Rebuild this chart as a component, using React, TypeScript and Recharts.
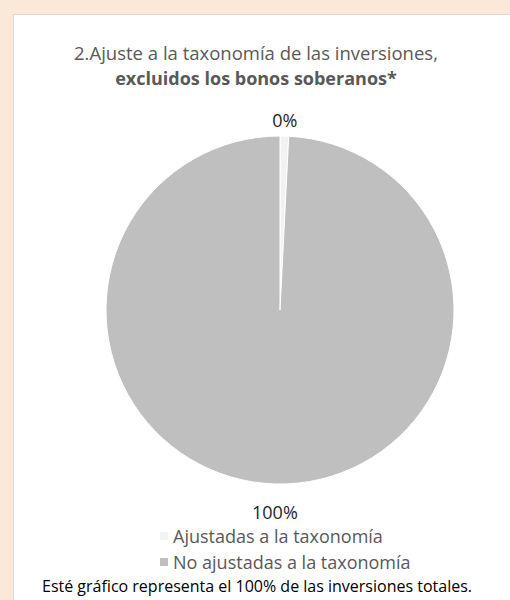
import { PieChart, Pie, Cell, Legend } from "recharts";

const CATEGORIES = ["Ajustadas a la taxonomía", "No ajustadas a la taxonomía"];
const VALUES = [0.8, 99.2];
const LABELS = ["0%", "100%"];
const COLORS = ["#f2f2f2", "#bfbfbf"];

const FONT = "'Open Sans', Lato, sans-serif";
const RADIAN = Math.PI / 180;

const data = CATEGORIES.map((name, i) => ({ name, value: VALUES[i], label: LABELS[i] }));

function renderLabel(props: any) {
  const { cx, cy, midAngle, outerRadius, index } = props;
  const s = Math.sin(midAngle * RADIAN);
  const r = outerRadius + 22 - 6 * s;
  const x = cx + r * Math.cos(-midAngle * RADIAN);
  const y = cy + r * Math.sin(-midAngle * RADIAN);
  return (
    <text
      x={x}
      y={y}
      textAnchor="middle"
      dominantBaseline="central"
      fill="#262626"
      fontSize={18}
      fontFamily={FONT}
    >
      {LABELS[index]}
    </text>
  );
}

function renderLegend() {
  return (
    <div style={{ fontFamily: FONT, fontSize: 18, lineHeight: "18px", color: "#595959" }}>
      {CATEGORIES.map((name, i) => (
        <div key={name} style={{ display: "flex", alignItems: "center", height: 26 }}>
          <span
            style={{
              display: "inline-block",
              width: 8,
              height: 8,
              background: COLORS[i],
              marginRight: 5,
            }}
          />
          <span>{name}</span>
        </div>
      ))}
    </div>
  );
}

export default function App() {
  return (
    <div
      style={{
        position: "absolute",
        left: 0,
        top: 0,
        width: 510,
        height: 600,
        overflow: "hidden",
        background: "#fbe8d8",
      }}
    >
      <div
        style={{
          position: "absolute",
          left: 13,
          top: 14,
          width: 520,
          height: 600,
          background: "#ffffff",
          border: "1px solid #d9d9d9",
        }}
      />
      <div style={{ position: "absolute", left: 0, top: 0 }}>
        <PieChart width={510} height={600}>
          <text
            x={256}
            y={52}
            textAnchor="middle"
            dominantBaseline="central"
            fontSize={18.5}
            fontFamily={FONT}
            fill="#595959"
          >
            2.Ajuste a la taxonomía de las inversiones,
          </text>
          <text
            x={256}
            y={78}
            textAnchor="middle"
            dominantBaseline="central"
            fontSize={18}
            fontWeight="bold"
            fontFamily={FONT}
            fill="#595959"
          >
            excluidos los bonos soberanos*
          </text>
          <Pie
            data={data}
            dataKey="value"
            nameKey="name"
            cx={275}
            cy={305}
            outerRadius={174}
            startAngle={90}
            endAngle={-270}
            stroke="#ffffff"
            strokeWidth={1}
            label={renderLabel}
            labelLine={false}
            isAnimationActive={false}
          >
            {data.map((d, i) => (
              <Cell key={d.name} fill={COLORS[i]} />
            ))}
          </Pie>
          <Legend
            layout="vertical"
            content={renderLegend}
            wrapperStyle={{ left: 160, top: 523, width: 320 }}
          />
        </PieChart>
      </div>
      <div
        style={{
          position: "absolute",
          left: 0,
          width: 514,
          top: 575,
          textAlign: "center",
          fontFamily: FONT,
          fontSize: 16,
          color: "#000000",
        }}
      >
        Esté gráfico representa el 100% de las inversiones totales.
      </div>
    </div>
  );
}
